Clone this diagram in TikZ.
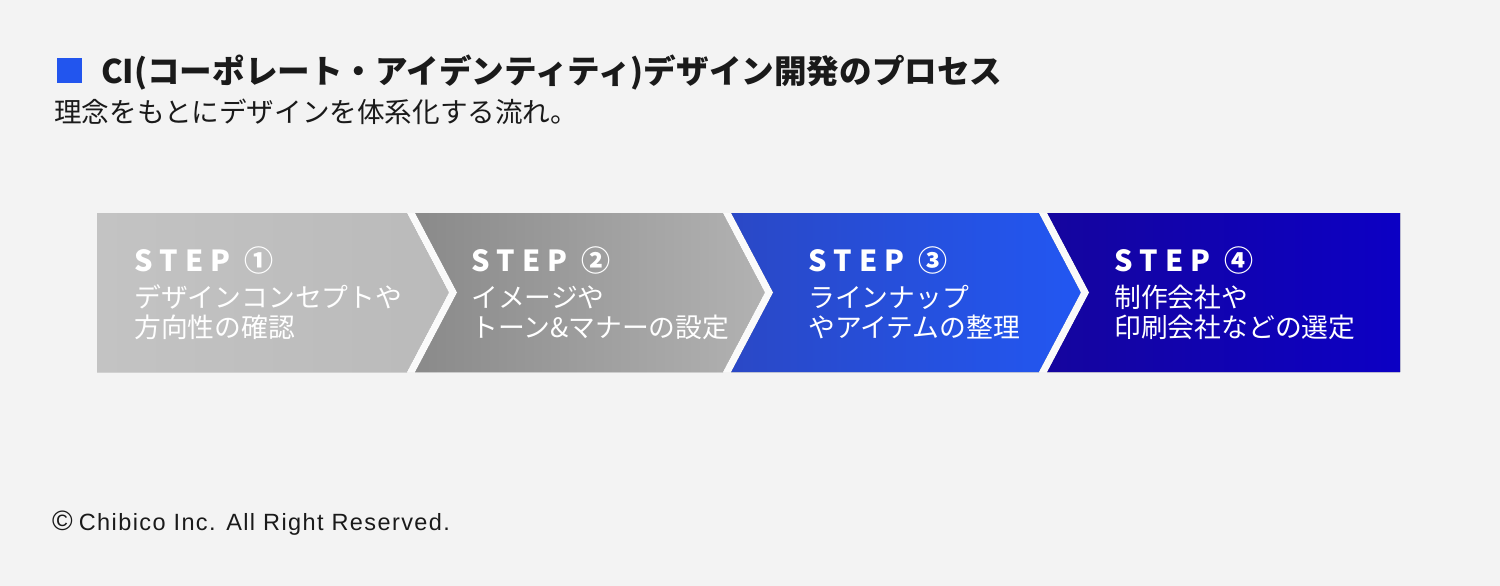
\documentclass[tikz,border=0pt]{standalone}
\usepackage{fontspec}
\setmainfont{Noto Sans CJK JP}
\newfontfamily\stepfont{Noto Sans CJK JP}[LetterSpace=25]
\newfontfamily\cpfont{Liberation Sans}[LetterSpace=6]
\definecolor{bg}{HTML}{F3F3F3}
\definecolor{gapc}{HTML}{FAFAFA}
\definecolor{titleblue}{HTML}{2255EE}
\definecolor{gA}{HTML}{C3C3C3}
\definecolor{gB}{HTML}{BABABA}
\definecolor{gC}{HTML}{8A8A8A}
\definecolor{gD}{HTML}{B2B2B2}
\definecolor{bA}{HTML}{2A48C6}
\definecolor{bB}{HTML}{2257F2}
\definecolor{dA}{HTML}{15059E}
\definecolor{dB}{HTML}{0C00C4}
\definecolor{txt}{HTML}{1A1A1A}
\tikzset{
  steptitle/.style={anchor=base west, text=white, font={\stepfont\bfseries\fontsize{29}{30}\selectfont}, inner sep=0pt},
  stepbody/.style={anchor=base west, text=white, font={\fontsize{26.8}{29.5}\selectfont}, inner sep=0pt, align=left},
}
\begin{document}
\begin{tikzpicture}[x=1pt,y=-1pt]
\fill[bg] (0,0) rectangle (1500,586);
\useasboundingbox (0,0) rectangle (1500,586);
% title
\fill[titleblue] (57,58) rectangle (82,83);
\node[anchor=base west, inner sep=0pt, text=txt, font={\bfseries\fontsize{32.6}{34}\selectfont}] (title) at (101,84) {CI(コーポレート・アイデンティティ)デザイン開発のプロセス};
\node[anchor=base west, inner sep=0pt, text=txt, font={\fontsize{27.6}{30}\selectfont}] (sub) at (54,122) {理念をもとにデザインを体系化する流れ。};
% chevrons
\fill[left color=gA, right color=gB] (97,213) -- (407,213) -- (449,292.5) -- (407,372) -- (97,372) -- cycle;
\fill[left color=gC, right color=gD] (415,213) -- (723,213) -- (765,292.5) -- (723,372) -- (415,372) -- (457,292.5) -- cycle;
\fill[left color=bA, right color=bB] (731,213) -- (1039,213) -- (1081,292.5) -- (1039,372) -- (731,372) -- (773,292.5) -- cycle;
\fill[left color=dA, right color=dB] (1047,213) -- (1400,213) -- (1400,372) -- (1047,372) -- (1089,292.5) -- cycle;
\foreach \gx in {411,727,1043}{
  \fill[gapc] (\gx-4,213) -- (\gx+4,213) -- (\gx+46,292.5) -- (\gx+4,372) -- (\gx-4,372) -- (\gx+38,292.5) -- cycle;
}
% texts
\node[steptitle] (s1) at (134,271) {STEP ①};
\node[stepbody] (b1) at (134,337) {デザインコンセプトや\\方向性の確認};
\node[steptitle] (s2) at (471,271) {STEP ②};
\node[stepbody] (b2) at (471,337) {イメージや\\トーン\&マナーの設定};
\node[steptitle] (s3) at (808,271) {STEP ③};
\node[stepbody] (b3) at (808,337) {ラインナップ\\やアイテムの整理};
\node[steptitle] (s4) at (1114,271) {STEP ④};
\node[stepbody] (b4) at (1114,337) {制作会社や\\印刷会社などの選定};
% copyright
\node[anchor=base west, inner sep=0pt, text=txt, font={\cpfont\fontsize{23.5}{25}\selectfont}] (cp) at (52,530) {{\fontsize{28}{28}\selectfont ©}\hspace{6pt}Chibico Inc. All Right Reserved.};
\end{tikzpicture}
\end{document}
